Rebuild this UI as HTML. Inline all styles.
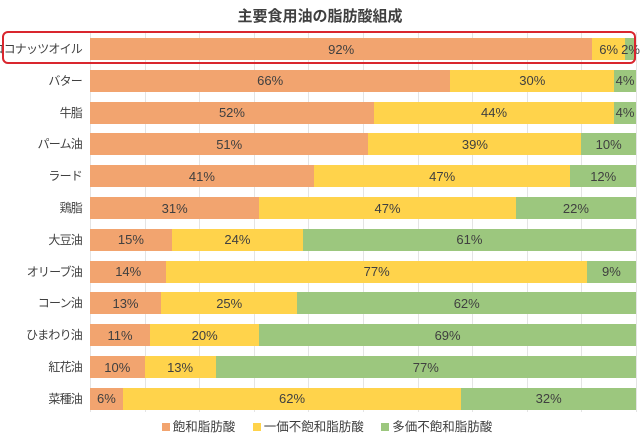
<!DOCTYPE html>
<html><head><meta charset="utf-8"><style>
body{margin:0;width:640px;height:438px;background:#fff;font-family:"Liberation Sans","Noto Sans CJK JP",sans-serif;position:relative;overflow:hidden}
.t{position:absolute;top:5px;left:0;width:640px;text-align:center;font-weight:bold;font-size:15px;color:#404040}
.g{position:absolute;top:32px;height:380px;width:1px;background:#e4e4e4}
.row{position:absolute;left:90px;width:546px;height:22px;display:flex}
.row div{height:100%;display:flex;align-items:center;justify-content:center;font-size:13px;color:#404040;overflow:visible;white-space:nowrap}
.l{position:absolute;right:558px;font-size:12px;line-height:22px;color:#404040;text-align:right;white-space:nowrap;letter-spacing:-0.8px}
.o{background:#F2A46F}.y{background:#FFD34B}.gr{background:#9CC77E}
.box{position:absolute;left:2px;top:31px;width:634px;height:33px;border:2px solid #d9262e;border-radius:6px;box-sizing:border-box}
.leg{position:absolute;top:416px;left:0;width:640px;text-align:center;font-size:12.5px;color:#404040}
.leg span.s{display:inline-block;width:8px;height:8px;margin:0 3px 0 14px}
</style></head><body>
<div class="t">主要食用油の脂肪酸組成</div>
<div class="g" style="left:90px"></div><div class="g" style="left:145px"></div><div class="g" style="left:199px"></div><div class="g" style="left:254px"></div><div class="g" style="left:308px"></div><div class="g" style="left:363px"></div><div class="g" style="left:418px"></div><div class="g" style="left:472px"></div><div class="g" style="left:527px"></div><div class="g" style="left:581px"></div><div class="g" style="left:636px"></div>
<div id="c"></div>
<div class="box"></div>
<div class="leg"><span class="s o"></span>飽和脂肪酸 <span class="s y"></span>一価不飽和脂肪酸 <span class="s gr"></span>多価不飽和脂肪酸</div>
<script>
var d=[["ココナッツオイル",92,6,2],["バター",66,30,4],["牛脂",52,44,4],["パーム油",51,39,10],["ラード",41,47,12],["鶏脂",31,47,22],["大豆油",15,24,61],["オリーブ油",14,77,9],["コーン油",13,25,62],["ひまわり油",11,20,69],["紅花油",10,13,77],["菜種油",6,62,32]];
var h="";d.forEach(function(r,i){var top=38+i*31.8;
h+='<div class="l" style="top:'+top+'px">'+r[0]+'</div><div class="row" style="top:'+top+'px"><div class="o" style="width:'+r[1]+'%">'+r[1]+'%</div><div class="y" style="width:'+r[2]+'%">'+r[2]+'%</div><div class="gr" style="width:'+r[3]+'%">'+r[3]+'%</div></div>';});
document.getElementById("c").innerHTML=h;
</script>
</body></html>
